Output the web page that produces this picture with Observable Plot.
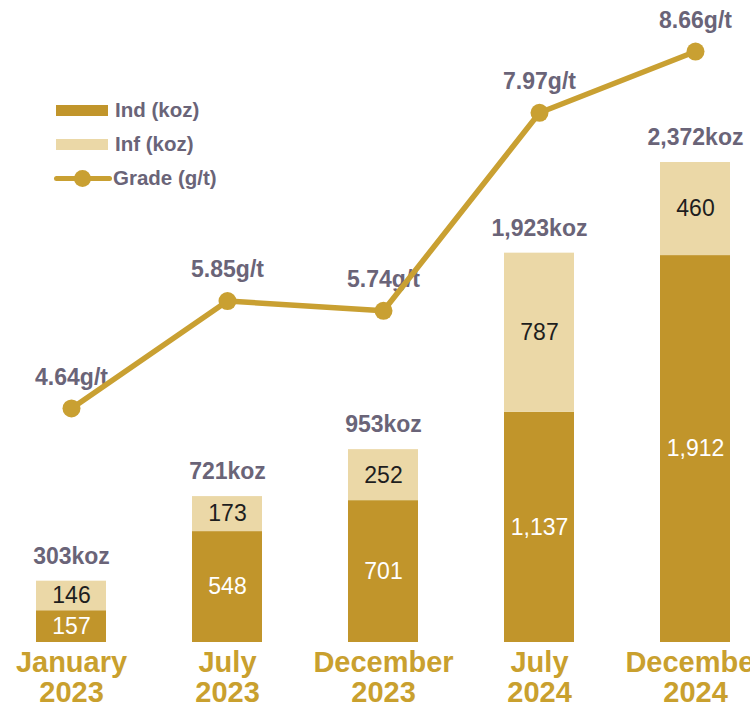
<!DOCTYPE html>
<html>
<head>
<meta charset="utf-8">
<script src="https://cdn.jsdelivr.net/npm/d3@7"></script>
<script src="https://cdn.jsdelivr.net/npm/@observablehq/plot@0.6"></script>
<style>
  html, body { margin: 0; padding: 0; background: #fff; }
  #wrap { position: relative; width: 750px; height: 705px; overflow: hidden; font-family: "Liberation Sans", Arial, sans-serif; }
  .leg { position: absolute; left: 56px; top: 93px; font-weight: bold; font-size: 20.5px; color: #6a6478; }
  .row { display: flex; align-items: center; height: 34px; }
  .sw { width: 52px; height: 11px; margin-right: 7px; }
  .gl { position: relative; width: 58px; height: 11px; margin-right: 1px; margin-left: -2px; }
  .gl .ln { position: absolute; left: 0; right: 0; top: 3px; height: 5px; background: #c9a032; border-radius: 3px; }
  .gl .dt { position: absolute; left: 20px; top: -3px; width: 17px; height: 17px; border-radius: 50%; background: #c9a032; }
</style>
</head>
<body>
<div id="wrap">
  <div id="chart"></div>
  <div class="leg">
    <div class="row"><div class="sw" style="background:#c1952b"></div>Ind (koz)</div>
    <div class="row"><div class="sw" style="background:#ebd8a7"></div>Inf (koz)</div>
    <div class="row"><div class="gl"><div class="ln"></div><div class="dt"></div></div>Grade (g/t)</div>
  </div>
</div>
<script>
const periods = ["January 2023", "July 2023", "December 2023", "July 2024", "December 2024"];
const indKoz = [157, 548, 701, 1137, 1912];
const infKoz = [146, 173, 252, 787, 460];
const totalKoz = [303, 721, 953, 1923, 2372];
const gradeGt = [4.64, 5.85, 5.74, 7.97, 8.66];

const IND = "#c1952b", INF = "#ebd8a7", LINE = "#c9a032", LABEL = "#6a6478";

const data = periods.map((p, i) => ({
  period: p, ind: indKoz[i], inf: infKoz[i], total: totalKoz[i], grade: gradeGt[i]
}));

// grade plotted on a secondary axis, expressed in koz-equivalent units of the y scale
const gradeToY = d3.scaleLinear().domain([0, 10]).range([-879.6, 3508.4]);

const fmt = d3.format(",");

const chart = Plot.plot({
  width: 750,
  height: 705,
  marginLeft: 0, marginRight: 0, marginTop: 0, marginBottom: 0,
  style: { fontFamily: "'Liberation Sans', Arial, sans-serif", background: "white" },
  x: { type: "band", domain: periods, range: [0, 766], paddingInner: 0.554, paddingOuter: 0.2165, align: 0.5, axis: null, label: null },
  y: { domain: [0, 2372], range: [642, 162], axis: null },
  marks: [
    Plot.barY(data, { x: "period", y1: 0, y2: "ind", fill: IND }),
    Plot.barY(data, { x: "period", y1: "ind", y2: d => d.ind + d.inf, fill: INF }),
    Plot.text(data, { x: "period", y: d => d.ind / 2, text: d => fmt(d.ind), fill: "white", fontSize: 23 }),
    Plot.text(data, { x: "period", y: d => d.ind + d.inf / 2, text: d => fmt(d.inf), fill: "#1e1e1e", fontSize: 23 }),
    Plot.text(data, { x: "period", y: d => d.ind + d.inf, text: d => fmt(d.total) + "koz", dy: -25, fill: LABEL, fontSize: 23, fontWeight: "bold" }),
    Plot.text(data, { x: "period", y: d => gradeToY(d.grade), text: d => d.grade.toFixed(2) + "g/t", dy: -31, fill: LABEL, fontSize: 23, fontWeight: "bold" }),
    Plot.line(data, { x: "period", y: d => gradeToY(d.grade), stroke: LINE, strokeWidth: 5.5 }),
    Plot.dot(data, { x: "period", y: d => gradeToY(d.grade), r: 9, fill: LINE }),
    // category labels under the bars (x axis)
    Plot.text(data, {
      x: "period", y: 0, text: d => d.period.replace(" ", "\n"),
      lineAnchor: "top", dy: 8, fontSize: 29, fontWeight: "bold", fill: "#c9a02e", lineHeight: 1.03
    })
  ]
});
document.getElementById("chart").appendChild(chart);
</script>
</body>
</html>
